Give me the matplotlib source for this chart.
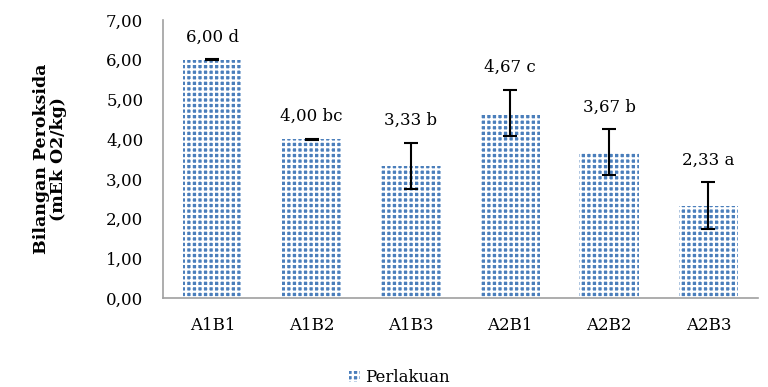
"""
Bilangan peroksida per perlakuan (bar chart with error bars)
Output: out.png
"""

import matplotlib.pyplot as plt
from matplotlib.patches import Patch

# Data
perlakuan = ["A1B1", "A1B2", "A1B3", "A2B1", "A2B2", "A2B3"]
rata_rata = [6.00, 4.00, 3.33, 4.67, 3.67, 2.33]
sd = [0.01, 0.01, 0.58, 0.58, 0.58, 0.58]
notasi = ["6,00 d", "4,00 bc", "3,33 b", "4,67 c", "3,67 b", "2,33 a"]
y_ticks = [0, 1, 2, 3, 4, 5, 6, 7]

plt.rcParams["font.family"] = ["DejaVu Serif"]
plt.rcParams["hatch.linewidth"] = 1.6

fig = plt.figure(figsize=(7.68, 3.87), dpi=100)
ax = fig.add_axes([0.212, 0.230, 0.775, 0.718])

# Bars with white grid pattern on blue
x = range(len(perlakuan))
ax.bar(
    x,
    rata_rata,
    width=0.6,
    color="#4a7ebb",
    edgecolor="white",
    linewidth=0,
    hatch="+++",
)

# Error bars
ax.errorbar(
    x,
    rata_rata,
    yerr=sd,
    fmt="none",
    ecolor="black",
    elinewidth=1.5,
    capsize=5,
    capthick=1.5,
)

# Labels above bars
for i, (m, s, t) in enumerate(zip(rata_rata, sd, notasi)):
    ax.annotate(
        t,
        (i, m + s),
        xytext=(0, 16),
        textcoords="offset points",
        ha="center",
        va="center",
        fontsize=12,
    )

# Axes styling
ax.set_xlim(-0.5, len(perlakuan) - 0.5)
ax.set_ylim(0, 7)
ax.set_yticks(y_ticks)
ax.set_yticklabels([f"{v:.2f}".replace(".", ",") for v in y_ticks])
ax.set_xticks(list(x))
ax.set_xticklabels(perlakuan)
ax.tick_params(axis="both", length=0, labelsize=12)
ax.tick_params(axis="y", pad=14)
ax.tick_params(axis="x", pad=14)
for side in ["top", "right"]:
    ax.spines[side].set_visible(False)
for side in ["left", "bottom"]:
    ax.spines[side].set_color("#a0a0a0")
    ax.spines[side].set_linewidth(1.2)

ax.set_ylabel("Bilangan Peroksida\n(mEk O2/kg)", fontsize=12.5, fontweight="bold",
              linespacing=1.0, labelpad=28)

# Legend at the bottom
handle = Patch(facecolor="#4a7ebb", edgecolor="white", linewidth=0, hatch="+++")
fig.legend(
    [handle],
    ["Perlakuan"],
    loc="center",
    bbox_to_anchor=(0.52, 0.024),
    frameon=False,
    fontsize=12,
    handlelength=0.7,
    handleheight=0.7,
    handletextpad=0.3,
)

plt.savefig("out.png", dpi=100)
